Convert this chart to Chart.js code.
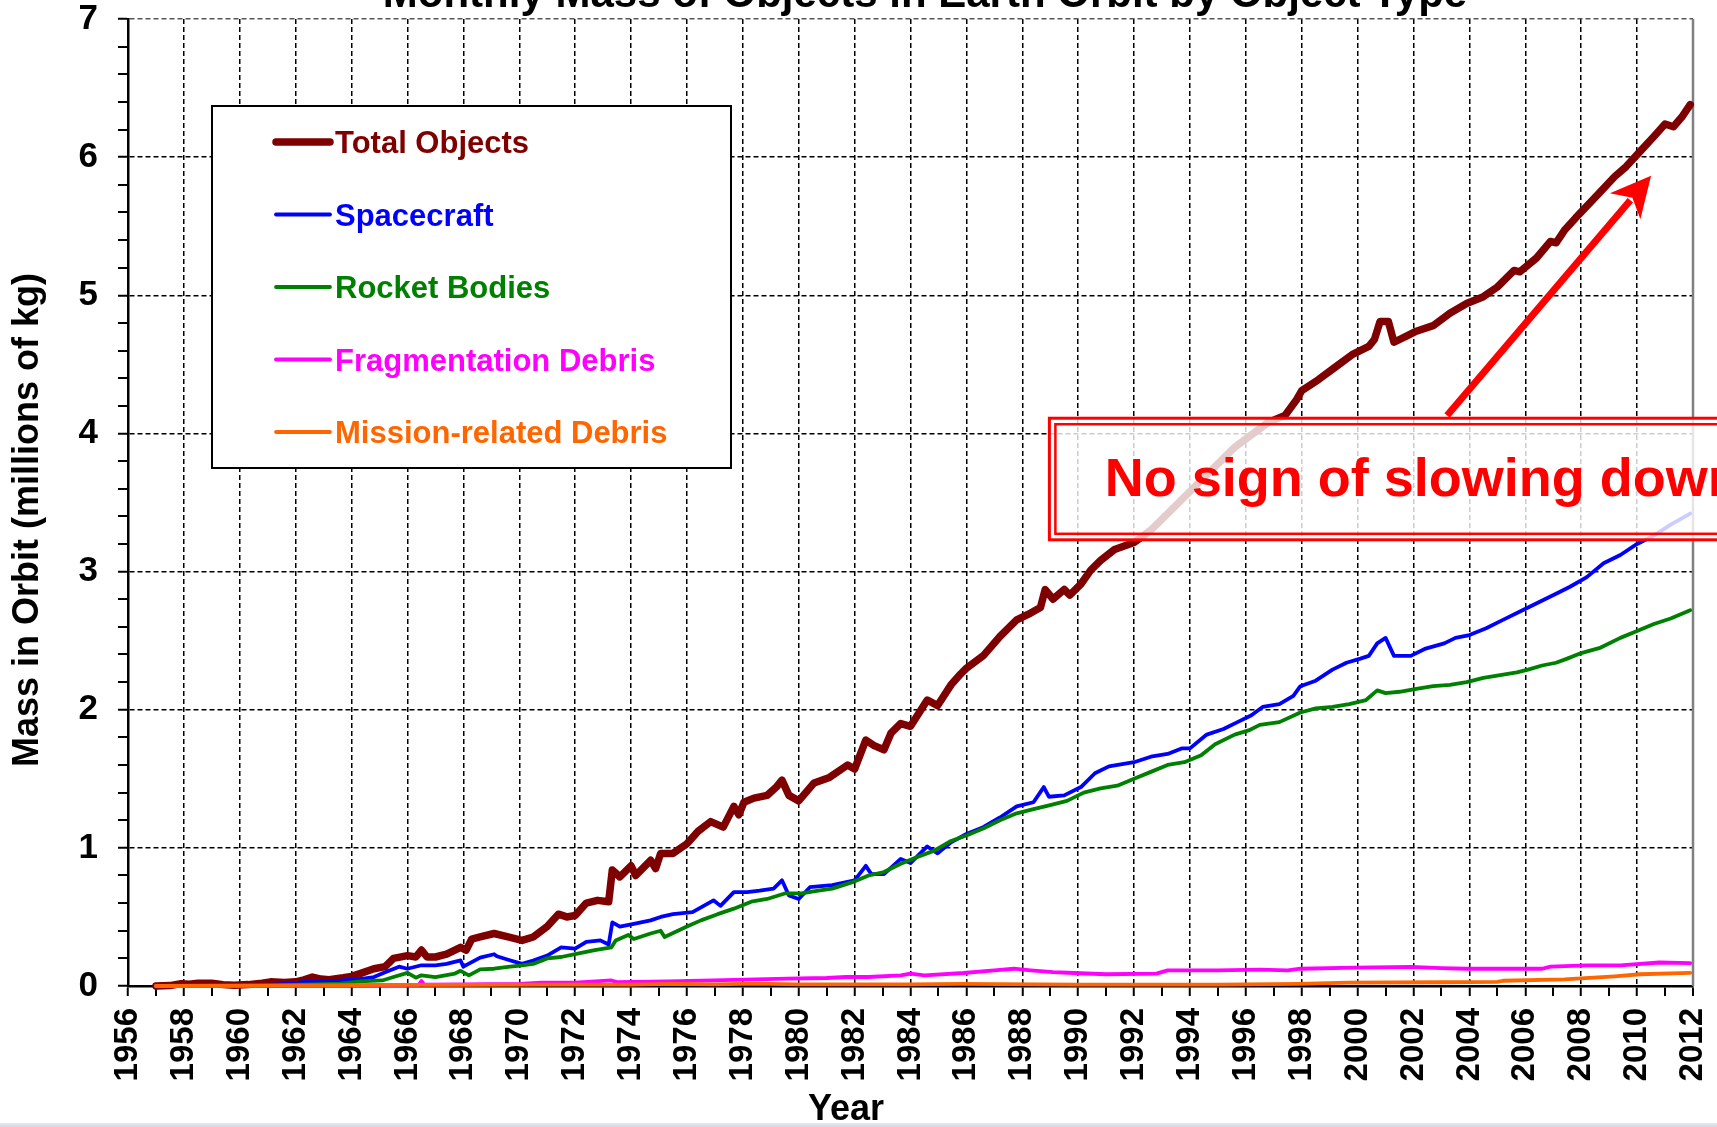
<!DOCTYPE html>
<html>
<head>
<meta charset="utf-8">
<title>Monthly Mass of Objects in Earth Orbit by Object Type</title>
<script src="https://cdn.jsdelivr.net/npm/chart.js@4.4.1/dist/chart.umd.min.js"></script>
<style>
  html, body { margin: 0; padding: 0; background: #fff; }
  #wrap { position: relative; width: 1717px; height: 1127px; overflow: hidden; }
  #edge { position: absolute; left: 0; right: 0; bottom: 0; height: 4px; background: linear-gradient(#e6e9f1, #d3d8e4); }
</style>
</head>
<body>
<div id="wrap">
  <canvas id="massChart" width="1717" height="1127"></canvas>
  <div id="edge"></div>
</div>
<script>
// values (millions of kg, decimal years)
var totalYears = [1957.0, 1957.5, 1957.9, 1958.2, 1958.5, 1959.0, 1959.4, 1959.8, 1960.3, 1960.8, 1961.1, 1961.6, 1962.0, 1962.3, 1962.6, 1962.9, 1963.2, 1963.7, 1964.0, 1964.3, 1964.8, 1965.2, 1965.5, 1966.0, 1966.3, 1966.5, 1966.7, 1967.0, 1967.4, 1967.9, 1968.1, 1968.3, 1968.6, 1969.1, 1969.6, 1970.1, 1970.5, 1971.0, 1971.4, 1971.7, 1972.0, 1972.4, 1972.8, 1973.2, 1973.33, 1973.6, 1974.0, 1974.17, 1974.7, 1974.88, 1975.06, 1975.5, 1976.0, 1976.4, 1976.85, 1977.3, 1977.68, 1977.86, 1978.04, 1978.4, 1978.87, 1979.2, 1979.4, 1979.65, 1980.0, 1980.55, 1981.1, 1981.75, 1982.0, 1982.4, 1982.7, 1983.05, 1983.3, 1983.65, 1984.0, 1984.6, 1984.97, 1985.45, 1985.8, 1986.0, 1986.6, 1987.2, 1987.8, 1988.3, 1988.65, 1988.82, 1989.1, 1989.5, 1989.7, 1990.1, 1990.45, 1990.8, 1991.3, 1992.0, 1992.6, 1993.2, 1994.4, 1995.6, 1996.8, 1997.4, 1997.8, 1998.0, 1998.6, 1999.2, 1999.8, 2000.4, 2000.6, 2000.8, 2001.1, 2001.3, 2001.8, 2002.1, 2002.7, 2003.3, 2003.9, 2004.5, 2005.0, 2005.6, 2005.8, 2006.4, 2006.9, 2007.1, 2007.4, 2007.8, 2008.6, 2009.2, 2009.6, 2010.1, 2010.6, 2011.0, 2011.3, 2011.6, 2011.9]
var totalMass = [0.0, 0.003, 0.017, 0.012, 0.02, 0.02, 0.01, 0.005, 0.01, 0.02, 0.03, 0.025, 0.03, 0.045, 0.065, 0.05, 0.046, 0.06, 0.07, 0.09, 0.125, 0.14, 0.2, 0.22, 0.21, 0.26, 0.21, 0.21, 0.23, 0.28, 0.26, 0.34, 0.355, 0.38, 0.355, 0.33, 0.355, 0.43, 0.52, 0.5, 0.51, 0.6, 0.62, 0.61, 0.84, 0.79, 0.87, 0.8, 0.91, 0.85, 0.96, 0.96, 1.03, 1.12, 1.19, 1.15, 1.3, 1.24, 1.33, 1.36, 1.38, 1.44, 1.49, 1.38, 1.34, 1.47, 1.51, 1.6, 1.57, 1.78, 1.74, 1.71, 1.83, 1.9, 1.88, 2.07, 2.03, 2.18, 2.26, 2.3, 2.39, 2.53, 2.65, 2.7, 2.74, 2.87, 2.8, 2.87, 2.83, 2.91, 3.01, 3.08, 3.16, 3.21, 3.3, 3.42, 3.66, 3.9, 4.08, 4.13, 4.24, 4.31, 4.39, 4.48, 4.57, 4.63, 4.68, 4.81, 4.81, 4.66, 4.71, 4.74, 4.78, 4.87, 4.94, 4.99, 5.06, 5.18, 5.17, 5.27, 5.39, 5.38, 5.47, 5.56, 5.73, 5.86, 5.93, 6.04, 6.15, 6.24, 6.22, 6.29, 6.38]

var spacecraftYears = [1957.0, 1958.0, 1960.0, 1961.0, 1962.0, 1962.4, 1963.2, 1963.7, 1964.3, 1964.8, 1965.2, 1965.7, 1966.0, 1966.5, 1967.0, 1967.4, 1967.9, 1968.0, 1968.6, 1969.1, 1969.2, 1969.6, 1970.1, 1970.5, 1971.0, 1971.5, 1972.0, 1972.4, 1972.9, 1973.2, 1973.33, 1973.6, 1974.1, 1974.7, 1975.06, 1975.5, 1976.2, 1976.6, 1976.95, 1977.2, 1977.68, 1978.16, 1978.6, 1979.1, 1979.4, 1979.65, 1980.0, 1980.4, 1981.2, 1982.0, 1982.4, 1982.6, 1983.05, 1983.65, 1984.0, 1984.6, 1984.97, 1985.45, 1986.0, 1986.6, 1987.2, 1987.8, 1988.4, 1988.77, 1988.95, 1989.5, 1990.1, 1990.6, 1991.1, 1992.0, 1992.6, 1993.2, 1993.7, 1994.0, 1994.6, 1995.2, 1995.7, 1996.2, 1996.6, 1997.2, 1997.7, 1997.95, 1998.5, 1999.1, 1999.6, 2000.1, 2000.4, 2000.7, 2001.0, 2001.3, 2001.9, 2002.4, 2003.1, 2003.5, 2004.0, 2004.6, 2005.2, 2005.9, 2006.5, 2007.1, 2007.6, 2008.2, 2008.8, 2009.4, 2010.0, 2010.6, 2011.2, 2011.9]
var spacecraftMass = [0.0, 0.0, 0.003, 0.008, 0.017, 0.036, 0.03, 0.04, 0.05, 0.065, 0.1, 0.14, 0.125, 0.15, 0.15, 0.16, 0.185, 0.14, 0.205, 0.23, 0.215, 0.19, 0.16, 0.185, 0.22, 0.28, 0.27, 0.32, 0.33, 0.3, 0.46, 0.43, 0.45, 0.475, 0.5, 0.52, 0.535, 0.58, 0.62, 0.58, 0.68, 0.68, 0.69, 0.705, 0.765, 0.655, 0.63, 0.715, 0.73, 0.765, 0.87, 0.81, 0.81, 0.92, 0.89, 1.01, 0.96, 1.04, 1.1, 1.15, 1.22, 1.3, 1.33, 1.44, 1.37, 1.38, 1.44, 1.54, 1.59, 1.62, 1.66, 1.68, 1.72, 1.72, 1.82, 1.86, 1.91, 1.96, 2.02, 2.04, 2.1, 2.17, 2.21, 2.29, 2.34, 2.37, 2.39, 2.48, 2.52, 2.39, 2.39, 2.44, 2.48, 2.52, 2.54, 2.59, 2.65, 2.72, 2.78, 2.84, 2.89, 2.96, 3.06, 3.12, 3.2, 3.26, 3.34, 3.42]

var rocketYears = [1957.0, 1959.0, 1961.0, 1962.6, 1963.6, 1964.3, 1965.1, 1965.5, 1966.0, 1966.3, 1966.5, 1967.0, 1967.7, 1967.9, 1968.2, 1968.6, 1969.1, 1969.6, 1970.1, 1970.5, 1971.0, 1971.5, 1972.0, 1972.7, 1973.3, 1973.45, 1973.9, 1974.1, 1974.7, 1975.06, 1975.2, 1976.0, 1976.5, 1977.1, 1977.68, 1978.3, 1978.87, 1979.5, 1980.1, 1980.7, 1981.2, 1981.9, 1982.5, 1983.05, 1983.65, 1984.2, 1984.85, 1985.45, 1986.0, 1986.6, 1987.2, 1987.8, 1988.4, 1989.0, 1989.6, 1990.2, 1990.8, 1991.4, 1992.0, 1992.6, 1993.2, 1993.8, 1994.4, 1994.9, 1995.6, 1996.1, 1996.5, 1997.2, 1997.95, 1998.5, 1999.1, 1999.7, 2000.3, 2000.7, 2001.0, 2001.5, 2002.1, 2002.7, 2003.3, 2003.9, 2004.5, 2005.1, 2005.7, 2006.1, 2006.6, 2007.1, 2007.5, 2008.0, 2008.7, 2009.4, 2010.0, 2010.6, 2011.2, 2011.9]
var rocketMass = [0.0, 0.002, 0.005, 0.012, 0.017, 0.034, 0.04, 0.065, 0.095, 0.06, 0.077, 0.065, 0.09, 0.11, 0.077, 0.12, 0.125, 0.138, 0.15, 0.16, 0.2, 0.21, 0.23, 0.26, 0.28, 0.33, 0.37, 0.34, 0.38, 0.4, 0.355, 0.43, 0.475, 0.52, 0.56, 0.61, 0.63, 0.67, 0.67, 0.69, 0.705, 0.75, 0.8, 0.825, 0.885, 0.93, 0.98, 1.05, 1.09, 1.14, 1.2, 1.25, 1.28, 1.31, 1.34, 1.4, 1.43, 1.45, 1.5, 1.55, 1.6, 1.62, 1.67, 1.75, 1.82, 1.85, 1.89, 1.91, 1.98, 2.01, 2.02, 2.04, 2.07, 2.14, 2.12, 2.13, 2.15, 2.17, 2.18, 2.2, 2.23, 2.25, 2.27, 2.29, 2.32, 2.34, 2.37, 2.41, 2.45, 2.52, 2.57, 2.62, 2.66, 2.72]

var fragYears = [1957.0, 1961.5, 1962.0, 1964.8, 1966.4, 1966.5, 1966.6, 1968.0, 1970.0, 1970.8, 1972.0, 1973.3, 1973.5, 1975.3, 1976.95, 1979.6, 1981.0, 1981.7, 1982.5, 1983.65, 1984.0, 1984.5, 1985.9, 1987.0, 1987.7, 1988.3, 1989.1, 1989.85, 1991.0, 1992.8, 1993.2, 1995.0, 1996.5, 1997.5, 1997.95, 1999.9, 2001.9, 2003.0, 2003.9, 2006.6, 2006.9, 2008.2, 2009.4, 2010.8, 2011.9]
var fragMass = [0.0, 0.0, 0.003, 0.005, 0.008, 0.036, 0.01, 0.012, 0.015, 0.024, 0.025, 0.04, 0.028, 0.034, 0.04, 0.053, 0.058, 0.065, 0.065, 0.077, 0.09, 0.077, 0.094, 0.113, 0.125, 0.113, 0.1, 0.094, 0.085, 0.09, 0.113, 0.113, 0.118, 0.113, 0.125, 0.133, 0.138, 0.13, 0.125, 0.125, 0.14, 0.15, 0.15, 0.17, 0.165]

var missionYears = [1957.0, 1960.0, 1963.0, 1965.0, 1968.0, 1971.0, 1974.0, 1975.5, 1977.0, 1978.5, 1980.0, 1984.0, 1985.8, 1990.0, 1995.0, 1997.9, 1999.65, 2003.0, 2005.0, 2005.2, 2007.4, 2009.2, 2010.1, 2011.9]
var missionMass = [0.0, 0.003, 0.005, 0.008, 0.008, 0.01, 0.01, 0.016, 0.012, 0.017, 0.012, 0.012, 0.016, 0.01, 0.01, 0.015, 0.024, 0.027, 0.03, 0.038, 0.048, 0.07, 0.085, 0.095]

var seriesNames = ['Total Objects', 'Spacecraft', 'Rocket Bodies', 'Fragmentation Debris', 'Mission-related Debris']
var seriesColors = ['#7f0000', '#0000ff', '#008000', '#ff00ff', '#ff6600']

var FONT = "'Liberation Sans', Arial, sans-serif"

function toPoints(xs, ys) {
  return xs.map(function(x, i) { return {x: x, y: ys[i]} })
}
function isWhole(v) {
  return Math.abs(v - Math.round(v)) < 1e-9
}

//title, cut by the top edge like the source image
const chartTitle = {
  id: 'chartTitle',
  afterDraw(chart, args, o) {
    const ctx = chart.ctx
    ctx.save()
    ctx.font = 'bold ' + o.size + 'px ' + FONT
    ctx.fillStyle = '#000'
    ctx.textAlign = 'center'
    ctx.textBaseline = 'alphabetic'
    ctx.fillText(o.text, o.x, o.y)
    ctx.restore()
  }
}

//axis titles
const axisTitles = {
  id: 'axisTitles',
  afterDraw(chart, args, o) {
    const ctx = chart.ctx
    ctx.save()
    ctx.font = 'bold ' + o.size + 'px ' + FONT
    ctx.fillStyle = '#000'
    ctx.textAlign = 'center'
    ctx.textBaseline = 'alphabetic'
    ctx.fillText(o.xText, o.xPos[0], o.xPos[1])
    ctx.translate(o.yPos[0], o.yPos[1])
    ctx.rotate(-Math.PI / 2)
    ctx.textBaseline = 'middle'
    ctx.fillText(o.yText, 0, 0)
    ctx.restore()
  }
}

//legend inside the plot, boxed
const boxLegend = {
  id: 'boxLegend',
  afterDatasetsDraw(chart, args, o) {
    const ctx = chart.ctx
    ctx.save()
    ctx.fillStyle = '#fff'
    ctx.fillRect(o.left, o.top, o.width, o.height)
    ctx.lineWidth = 2
    ctx.strokeStyle = '#000'
    ctx.strokeRect(o.left, o.top, o.width, o.height)
    ctx.font = 'bold ' + o.size + 'px ' + FONT
    ctx.textBaseline = 'alphabetic'
    ctx.textAlign = 'left'
    chart.data.datasets.forEach(function(ds, i) {
      const y = o.top + o.firstRow + i * o.rowGap
      ctx.beginPath()
      ctx.lineCap = 'round'
      ctx.lineWidth = ds.borderWidth
      ctx.strokeStyle = ds.borderColor
      ctx.moveTo(o.lineX[0], y)
      ctx.lineTo(o.lineX[1], y)
      ctx.stroke()
      ctx.fillStyle = ds.borderColor
      ctx.fillText(ds.label, o.textX, y + o.size * 0.36)
    })
    ctx.restore()
  }
}

//red callout box with arrow, placed in data units
const callout = {
  id: 'callout',
  afterDatasetsDraw(chart, args, o) {
    const ctx = chart.ctx
    const xs = chart.scales.x, ys = chart.scales.y
    const left = xs.getPixelForValue(o.boxLeft)
    const top = ys.getPixelForValue(o.boxTop)
    const bottom = ys.getPixelForValue(o.boxBottom)
    const right = chart.width + 30
    ctx.save()
    ctx.fillStyle = 'rgba(255,255,255,0.8)'
    ctx.fillRect(left, top, right - left, bottom - top)
    ctx.strokeStyle = '#ff0000'
    ctx.lineWidth = 3
    ctx.strokeRect(left, top, right - left, bottom - top)
    ctx.lineWidth = 2.5
    ctx.strokeRect(left + 6, top + 6, right - left - 12, bottom - top - 12)
    ctx.fillStyle = '#ff0000'
    ctx.font = 'bold ' + o.size + 'px ' + FONT
    ctx.textBaseline = 'alphabetic'
    ctx.fillText(o.text, xs.getPixelForValue(o.textAt[0]), ys.getPixelForValue(o.textAt[1]))

    const p0 = {x: xs.getPixelForValue(o.arrowFrom[0]), y: ys.getPixelForValue(o.arrowFrom[1])}
    const p1 = {x: xs.getPixelForValue(o.arrowTo[0]), y: ys.getPixelForValue(o.arrowTo[1])}
    const len = Math.hypot(p1.x - p0.x, p1.y - p0.y)
    const ux = (p1.x - p0.x) / len, uy = (p1.y - p0.y) / len
    const nx = -uy, ny = ux
    const headLen = 40, headHalf = 20
    ctx.strokeStyle = '#ff0000'
    ctx.lineWidth = 7
    ctx.lineCap = 'butt'
    ctx.beginPath()
    ctx.moveTo(p0.x, p0.y)
    ctx.lineTo(p1.x - ux * (headLen - 8), p1.y - uy * (headLen - 8))
    ctx.stroke()
    ctx.beginPath()
    ctx.moveTo(p1.x, p1.y)
    ctx.lineTo(p1.x - ux * headLen + nx * headHalf, p1.y - uy * headLen + ny * headHalf)
    ctx.lineTo(p1.x - ux * headLen * 0.72, p1.y - uy * headLen * 0.72)
    ctx.lineTo(p1.x - ux * headLen - nx * headHalf, p1.y - uy * headLen - ny * headHalf)
    ctx.closePath()
    ctx.fill()
    ctx.restore()
  }
}

//grey right edge of the plot frame
const plotFrame = {
  id: 'plotFrame',
  beforeDatasetsDraw(chart) {
    const a = chart.chartArea, ctx = chart.ctx
    ctx.save()
    ctx.strokeStyle = '#808080'
    ctx.lineWidth = 2.5
    ctx.beginPath()
    ctx.moveTo(a.right, a.top)
    ctx.lineTo(a.right, a.bottom)
    ctx.stroke()
    ctx.restore()
  }
}

Chart.defaults.font.family = FONT
Chart.defaults.color = '#000'

var seriesData = [
  toPoints(totalYears, totalMass),
  toPoints(spacecraftYears, spacecraftMass),
  toPoints(rocketYears, rocketMass),
  toPoints(fragYears, fragMass),
  toPoints(missionYears, missionMass)
]
var widths = [7.5, 3.8, 3.8, 3.8, 3.8]

var datasets = seriesNames.map(function(name, i) {
  return {
    label: name,
    data: seriesData[i],
    borderColor: seriesColors[i],
    backgroundColor: seriesColors[i],
    borderWidth: widths[i],
    borderJoinStyle: 'round',
    borderCapStyle: 'round',
    pointRadius: 0,
    tension: 0,
    fill: false,
    clip: false,
    order: seriesNames.length - i //later series sit on top
  }
})

new Chart(document.getElementById('massChart'), {
  type: 'line',
  data: { datasets: datasets },
  plugins: [plotFrame, boxLegend, callout, chartTitle, axisTitles],
  options: {
    responsive: false,
    animation: false,
    events: [],
    layout: { padding: { left: 0, top: 19, right: 24, bottom: 0 } },
    plugins: {
      legend: { display: false },
      tooltip: { enabled: false },
      chartTitle: { text: 'Monthly Mass of Objects in Earth Orbit by Object Type', x: 925, y: 7, size: 42 },
      axisTitles: { xText: 'Year', xPos: [846, 1120], yText: 'Mass in Orbit (millions of kg)', yPos: [28, 520], size: 36 },
      boxLegend: { left: 212, top: 106, width: 519, height: 362, firstRow: 36, rowGap: 72.5, lineX: [276, 330], textX: 335, size: 31 },
      callout: {
        text: 'No sign of slowing down', size: 54,
        boxLeft: 1988.97, boxTop: 4.11, boxBottom: 3.23,
        textAt: [1990.95, 3.55],
        arrowFrom: [2003.2, 4.13], arrowTo: [2010.5, 5.865]
      }
    },
    scales: {
      x: {
        type: 'linear',
        min: 1956,
        max: 2012,
        afterFit(scale) {
          scale.height = 141
          scale.paddingLeft = 0
          scale.paddingRight = 0
        },
        ticks: {
          stepSize: 1,
          maxTicksLimit: 200,
          autoSkip: false,
          minRotation: 90,
          maxRotation: 90,
          padding: 12,
          color: '#000',
          font: { size: 33, weight: 'bold', lineHeight: 1 },
          callback: function(v) { return v % 2 === 0 ? String(v) : '' }
        },
        grid: {
          color: function(c) { return (c.tick && c.tick.value % 2 === 0) ? '#000' : 'rgba(0,0,0,0)' },
          lineWidth: function(c) { return (c.tick && c.tick.value % 2 === 0 && c.tick.value < 2012) ? 1.5 : 0 },
          tickColor: '#000',
          tickWidth: 2,
          tickLength: 10,
          tickBorderDash: []
        },
        border: { display: true, color: '#000', width: 2.5, dash: [5, 3] }
      },
      y: {
        type: 'linear',
        min: 0,
        max: 7,
        afterFit(scale) {
          scale.width = 128
          scale.paddingTop = 0
          scale.paddingBottom = 0
        },
        ticks: {
          stepSize: 0.2,
          maxTicksLimit: 200,
          autoSkip: false,
          padding: 20,
          color: '#000',
          font: { size: 35, weight: 'bold', lineHeight: 1 },
          callback: function(v) { return isWhole(v) ? String(Math.round(v)) : '' }
        },
        grid: {
          color: function(c) {
            if (!c.tick || !isWhole(c.tick.value)) return 'rgba(0,0,0,0)'
            return Math.round(c.tick.value) === 7 ? '#555' : '#000'
          },
          lineWidth: function(c) { return (c.tick && isWhole(c.tick.value)) ? 1.5 : 0 },
          tickColor: '#000',
          tickWidth: 2,
          tickLength: 10,
          tickBorderDash: []
        },
        border: { display: true, color: '#000', width: 2.5, dash: [5, 3] }
      }
    }
  }
})
</script>
</body>
</html>
